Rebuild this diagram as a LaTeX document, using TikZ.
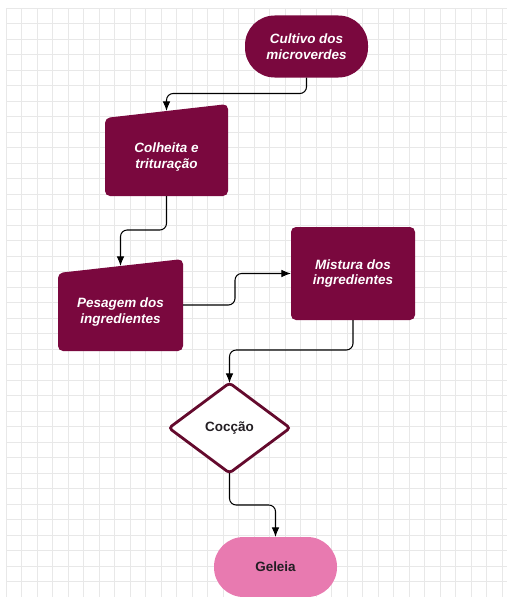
\documentclass[tikz,border=0pt]{standalone}
\usepackage{fontspec}
\setmainfont{Liberation Sans}
\usetikzlibrary{shapes.geometric,calc,backgrounds,arrows.meta}
\definecolor{vinho}{RGB}{122,8,62}
\definecolor{borda}{RGB}{100,10,45}
\definecolor{rosa}{RGB}{232,122,176}
\definecolor{grade}{RGB}{232,232,232}
\definecolor{escuro}{RGB}{35,30,35}

\begin{document}
\begin{tikzpicture}[x=0.3mm,y=-0.3mm,
  etapa/.style={font=\fontsize{11.5}{13.6}\selectfont\bfseries\itshape, text=white, align=center, outer sep=0pt},
  fim/.style={font=\fontsize{11.5}{13.6}\selectfont\bfseries, text=escuro, align=center, outer sep=0pt},
  pilula/.style={rectangle, rounded corners=8.9mm, minimum width=36.9mm},
  link/.style={-{Latex[length=2.9mm,width=2.3mm]}, line width=0.9pt, rounded corners=2mm}]
\useasboundingbox (0,0) rectangle (507,597);
\begin{scope}[on background layer]
\foreach \i in {0,...,32} \draw[grade, line width=0.5pt] (6+15.5*\i,8) -- (6+15.5*\i,597);
\foreach \j in {0,...,38} \draw[grade, line width=0.5pt] (6,8+15.5*\j) -- (507,8+15.5*\j);
\end{scope}

\node[pilula, etapa, fill=vinho, minimum height=18.6mm] (cult) at (306.5,46.5) {Cultivo dos\\microverdes};
\node[etapa, minimum width=36.9mm, minimum height=23.4mm] (colh) at (166.5,157) {Colheita e\\trituração};
\node[etapa, minimum width=37.5mm, minimum height=23.4mm] (pesa) at (120.5,312) {Pesagem dos\\ingredientes};
\node[etapa, fill=vinho, rounded corners=1.5mm, minimum width=37.2mm, minimum height=27.9mm] (mist) at (353,273.5) {Mistura dos\\ingredientes};
\node[diamond, fim, draw=borda, line width=2.4pt, fill=white, rounded corners=1mm, minimum width=36.3mm, minimum height=27mm] (cocc) at (229.5,428) {Cocção};
\node[pilula, fim, fill=rosa, minimum height=18mm] (gel) at (275.5,567) {Geleia};

% topo inclinado das duas etapas manuais
\begin{scope}[on background layer]
\fill[vinho, rounded corners=1.5mm] (colh.south west) -- (colh.north west) -- ($(colh.north east)+(0,-14)$) -- (colh.south east) -- cycle;
\fill[vinho, rounded corners=1.5mm] (pesa.south west) -- (pesa.north west) -- ($(pesa.north east)+(0,-14)$) -- (pesa.south east) -- cycle;
\end{scope}
\coordinate (colhtopo) at ($(colh.north)+(0,-7)$);
\coordinate (pesatopo) at ($(pesa.north)+(0,-7)$);
\coordinate (pesasai) at ($(pesa.east)+(0,-7)$);

\draw[link] (cult.south) -- ++(0,16) -| (colhtopo);
\draw[link] (colh.south) -- ++(0,34) -| (pesatopo);
\draw[link] (pesasai) -- ++(52,0) |- (mist.west);
\draw[link] (mist.south) -- ++(0,30) -| (cocc.north);
\draw[link] (cocc.south) -- ++(0,32) -| (gel.north);
\end{tikzpicture}
\end{document}
